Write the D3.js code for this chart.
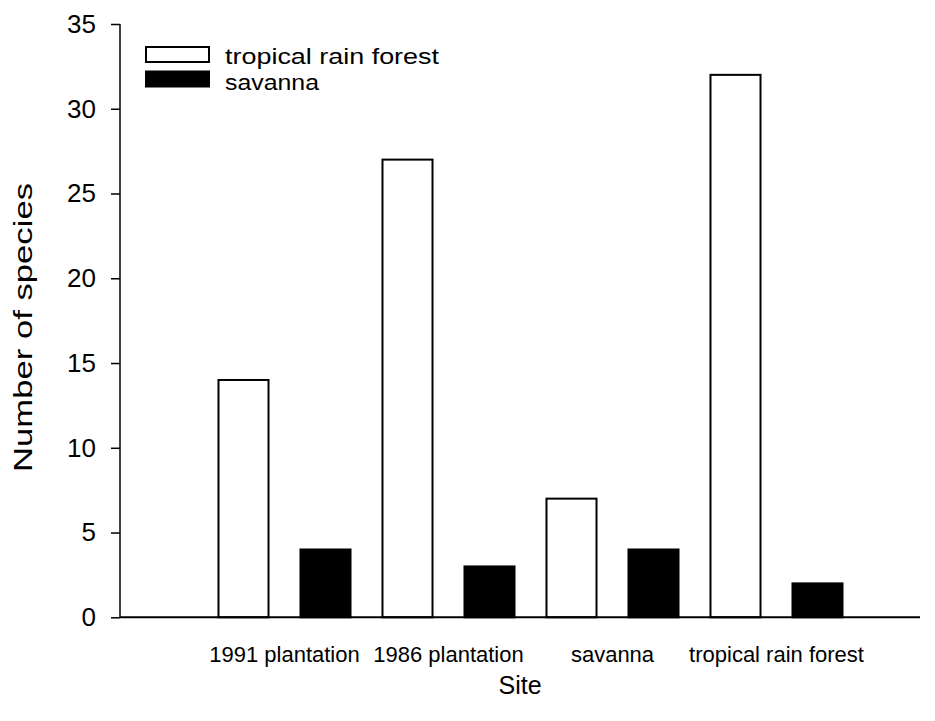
<!DOCTYPE html>
<html><head><meta charset="utf-8">
<script src="https://cdn.jsdelivr.net/npm/d3@7"></script>
<style>body{margin:0;background:#fff}text{font-family:"Liberation Sans",Arial,sans-serif;fill:#000}</style>
</head><body>
<svg id="c" width="935" height="721"></svg>
<script>
const categories = ["1991 plantation","1986 plantation","savanna","tropical rain forest"];
const series = ["tropical rain forest","savanna"];
const rainForest = [14,27,7,32];
const savanna = [4,3,4,2];
const yTicks = [0,5,10,15,20,25,30,35];

const svg = d3.select("#c");
const xAxisStart = 120, xAxisEnd = 920;
const y = d3.scaleLinear().domain([0,35]).range([617.3,24]);
const x0 = d3.scaleBand().domain(categories).range([202.5,858.5]).padding(0);
const x1 = d3.scaleBand().domain(series).range([0,x0.bandwidth()]).paddingInner(0.39).paddingOuter(0.195);
const fills = {"tropical rain forest":"#fff","savanna":"#000"};
const values = {"tropical rain forest":rainForest,"savanna":savanna};

const data = [];
categories.forEach((c,i)=>series.forEach(s=>data.push({c,s,v:values[s][i]})));

svg.append("g").selectAll("rect").data(data).join("rect")
  .attr("x",d=>x0(d.c)+x1(d.s))
  .attr("width",x1.bandwidth())
  .attr("y",d=>y(d.v))
  .attr("height",d=>y(0)-y(d.v))
  .attr("fill",d=>fills[d.s]).attr("stroke","#000").attr("stroke-width",2);

// y axis
const ya = svg.append("g").attr("transform",`translate(${xAxisStart},0)`)
  .call(d3.axisLeft(y).tickValues(yTicks).tickSize(9).tickPadding(15).tickFormat(d3.format("d")));
ya.select(".domain").attr("stroke-width",1.5).attr("d",`M-0,${y(35)}V${y(0)}`);
ya.selectAll(".tick line").attr("stroke-width",1.5);
ya.selectAll("text").attr("font-size",26).style("font-family","Liberation Sans, Arial, sans-serif");

// x axis
const xa = svg.append("g").attr("transform",`translate(0,${y(0)})`)
  .call(d3.axisBottom(x0).tickSize(0).tickPadding(28.8));
xa.select(".domain").attr("stroke-width",2).attr("d",`M${xAxisStart},0H${xAxisEnd}`);
xa.selectAll("text").attr("font-size",22).style("font-family","Liberation Sans, Arial, sans-serif");

svg.append("text").attr("x",520).attr("y",694).attr("text-anchor","middle").attr("font-size",25).text("Site");
svg.append("text").attr("transform","translate(31.5,327.5) rotate(-90)").attr("text-anchor","middle")
  .attr("font-size",26).attr("textLength",289).attr("lengthAdjust","spacingAndGlyphs").text("Number of species");

// legend
const lg = svg.append("g");
const legendLen = {"tropical rain forest":214,"savanna":94};
series.forEach((s,i)=>{
  lg.append("rect").attr("x",146).attr("y",47+i*24.5).attr("width",63).attr("height",15)
    .attr("fill",fills[s]).attr("stroke","#000").attr("stroke-width",2);
  lg.append("text").attr("x",225).attr("y",64+i*25.5).attr("font-size",22)
    .attr("textLength",legendLen[s]).attr("lengthAdjust","spacingAndGlyphs").text(s);
});
</script>
</body></html>
